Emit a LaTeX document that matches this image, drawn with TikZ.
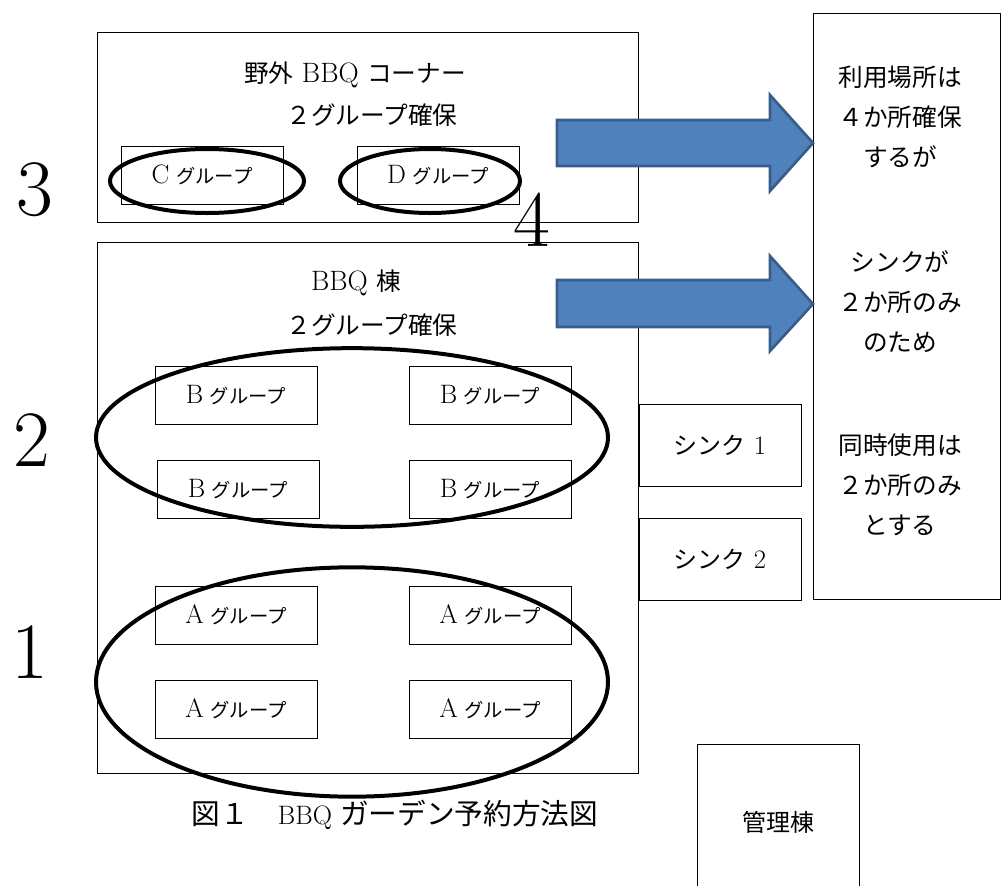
\documentclass[tikz,border=0pt]{standalone}
\usepackage{fontspec}
\newfontfamily\jp{Noto Sans CJK JP}
\usetikzlibrary{shapes.geometric}
\definecolor{arrowfill}{RGB}{79,129,189}
\definecolor{arrowedge}{RGB}{56,93,138}
\def\jasize{18}
\newcommand{\ja}[1]{{\jp\fontsize{\jasize}{\jasize}\selectfont #1}}
\newcommand{\grp}[1]{#1\hspace{5pt}{\jp\fontsize{14.5}{18}\selectfont グループ}}
\tikzset{
  box/.style={draw, line width=0.75pt, inner sep=0pt, minimum width=121.5pt, minimum height=43.5pt,
    font=\fontsize{20}{22}\selectfont\def\jasize{18}},
  ring/.style={draw, line width=3pt},
  bignum/.style={inner sep=0pt, font=\fontsize{60}{66}\selectfont},
  blockarrow/.style={fill=arrowfill, draw=arrowedge, line width=2pt},
  txt/.style={inner sep=0pt, font=\fontsize{21}{30}\selectfont\def\jasize{18.5}, align=center}
}
\begin{document}
\begin{tikzpicture}[x=0.75pt,y=-0.75pt]
    \useasboundingbox (0,0) rectangle (1001,886);
    % buildings
    \node[box, minimum width=405.75pt, minimum height=142.5pt] (outdoor) at (367.5,127) {};
    \node[box, minimum width=405.75pt, minimum height=398.25pt] (hall) at (367.5,507.5) {};
    \node[box, minimum width=140.25pt, minimum height=439.5pt] (note) at (906.5,306) {};
    \node[box, minimum height=117pt] (office) at (778,822) {\ja{管理棟}};
    \node[box, minimum height=61.5pt] (sink1) at (720,445) {\ja{シンク} 1};
    \node[box, minimum height=61.5pt] (sink2) at (720,559) {\ja{シンク} 2};
    % titles
    \node[txt] (outtitle) at (355,75) {\ja{野外} BBQ \ja{コーナー}};
    \node[txt] (outsub) at (372,115) {\ja{２グループ確保}};
    \node[txt] (halltitle) at (356,283) {BBQ \ja{棟}};
    \node[txt] (hallsub) at (372,325) {\ja{２グループ確保}};
    \node[txt] (note1) at (900,117) {\ja{利用場所は}\\\ja{４か所確保}\\\ja{するが}};
    \node[txt] (note2) at (900,302) {\ja{シンクが}\\\ja{２か所のみ}\\\ja{のため}};
    \node[txt] (note3) at (900,485) {\ja{同時使用は}\\\ja{２か所のみ}\\\ja{とする}};
    \node[txt, font=\fontsize{20}{30}\selectfont\def\jasize{21.5}] (caption) at (395,815)
      {\ja{図１　}BBQ \ja{ガーデン予約方法図}};
    % groups
    \node[box] (c) at (202,175) {\grp{C}};
    \node[box] (d) at (438,175) {\grp{D}};
    \node[box] (b1) at (236,395) {\grp{B}};
    \node[box] (b2) at (490,395) {\grp{B}};
    \node[box] (b3) at (238,489) {\grp{B}};
    \node[box] (b4) at (490,489) {\grp{B}};
    \node[box] (a1) at (236,615) {\grp{A}};
    \node[box] (a2) at (490,615) {\grp{A}};
    \node[box] (a3) at (236,709) {\grp{A}};
    \node[box] (a4) at (490,709) {\grp{A}};
    % rings
    \draw[ring] (207,181) ellipse [x radius=72.75pt, y radius=24pt];
    \draw[ring] (430,181) ellipse [x radius=67.5pt, y radius=24pt];
    \draw[ring] (352,437.5) ellipse [x radius=192pt, y radius=67pt];
    \draw[ring] (352,682) ellipse [x radius=192pt, y radius=86pt];
    % arrows
    \draw[blockarrow] (557,120) -- (770,120) -- (770,95) -- (813,143) -- (770,191) -- (770,166) -- (557,166) -- cycle;
    \draw[blockarrow] (557,280) -- (770,280) -- (770,256) -- (813,304) -- (770,351) -- (770,327) -- (557,327) -- cycle;
    % numbers
    \node[bignum] (n3) at (35,190) {3};
    \node[bignum] (n2) at (32,440) {2};
    \node[bignum] (n1) at (30,652) {1};
    \node[bignum] (n4) at (532,220) {4};
\end{tikzpicture}
\end{document}
